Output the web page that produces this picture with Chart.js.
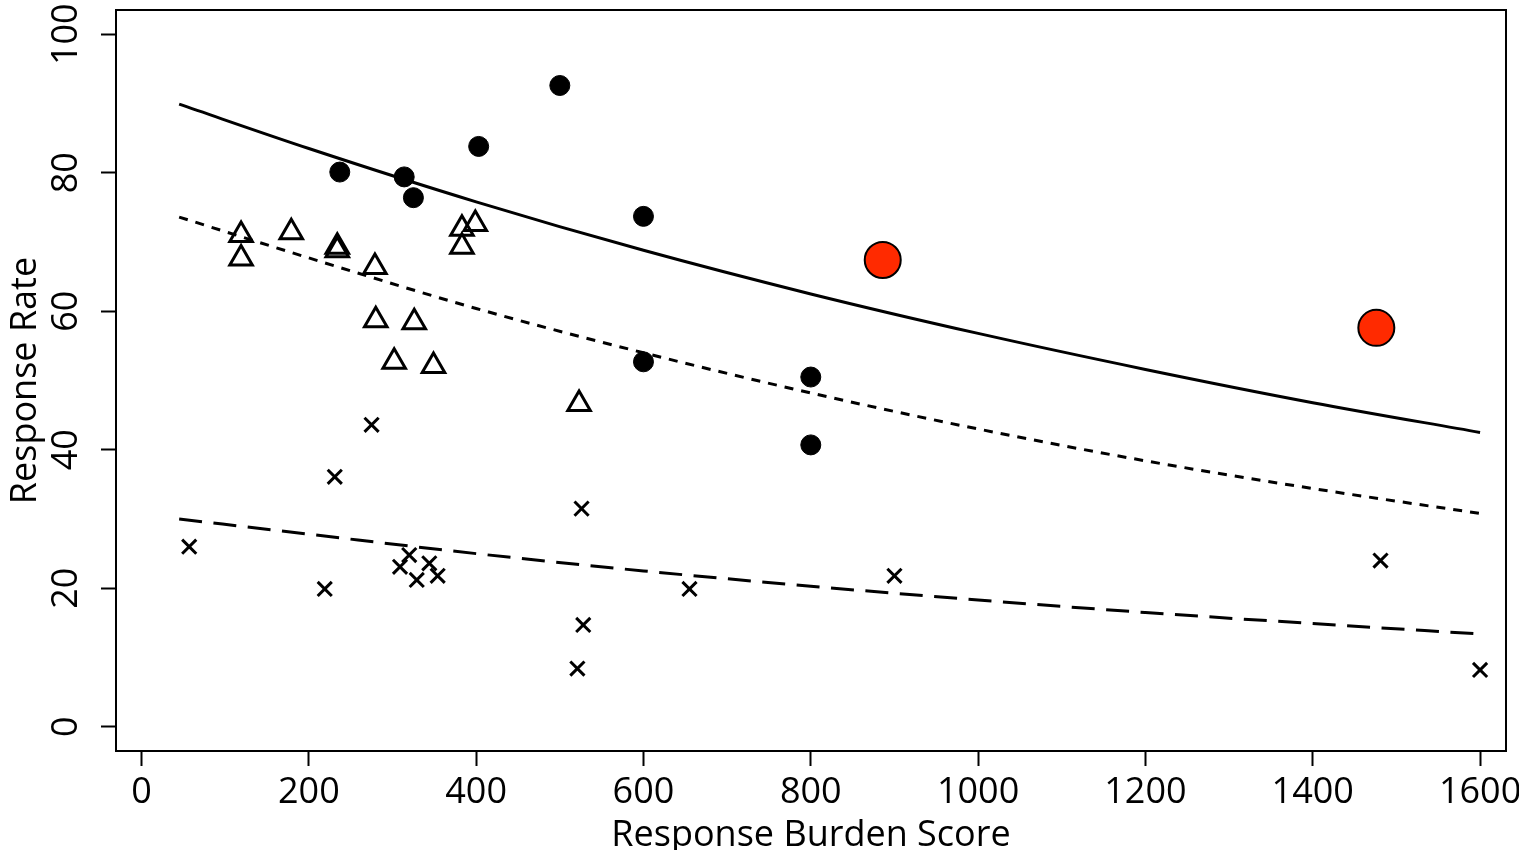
<!DOCTYPE html>
<html>
<head>
<meta charset="utf-8">
<title>Response Rate vs Response Burden Score</title>
<script src="https://cdn.jsdelivr.net/npm/chart.js@4/dist/chart.umd.min.js"></script>
<style>
  html, body { margin: 0; padding: 0; background: #fff; }
  #chart { display: block; }
</style>
</head>
<body>
<canvas id="chart" width="1519" height="850"></canvas>
<script>
// Dados ----------------------------------------------------------------------
const xTicks = [0, 200, 400, 600, 800, 1000, 1200, 1400, 1600];
const yTicks = [0, 20, 40, 60, 80, 100];

// pontos cheios (pretos)
const filledX = [237, 314, 325, 403, 500, 600, 600, 800, 800];
const filledY = [80.1, 79.4, 76.4, 83.8, 92.6, 73.7, 52.7, 50.5, 40.7];

// destaques em vermelho
const redX = [886, 1476];
const redY = [67.4, 57.6];

// triângulos abertos
const triX = [119, 119, 179, 234, 234, 279, 280, 326, 302, 349, 383, 399, 383, 523];
const triY = [71.0, 67.6, 71.4, 69.3, 68.8, 66.4, 58.7, 58.4, 52.7, 52.1, 71.9, 72.6, 69.3, 46.6];

// cruzes
const crossX = [57, 219, 231, 275, 320, 309, 329, 344, 354, 526, 528, 521, 655, 900, 1481, 1600];
const crossY = [26.0, 19.9, 36.1, 43.6, 24.8, 23.1, 21.2, 23.6, 21.8, 31.5, 14.7, 8.4, 19.9, 21.8, 24.0, 8.2];

const curveX  = [45, 200, 400, 600, 800, 1000, 1200, 1400, 1600];
const solidY  = [89.9, 83.5, 75.8, 68.8, 62.5, 56.8, 51.6, 46.8, 42.5];
const dottedY = [73.6, 67.7, 60.4, 54.0, 48.2, 43.0, 38.4, 34.4, 30.8];
const dashedY = [30.0, 27.8, 25.0, 22.5, 20.3, 18.3, 16.5, 14.9, 13.4];

// Helpers --------------------------------------------------------------------
const pts = (xs, ys) => xs.map((x, i) => ({ x, y: ys[i] }));
const FONT = '"Open Sans", "Liberation Sans", sans-serif';

function curve(ys, dash) {
  return {
    type: "line",
    data: pts(curveX, ys),
    borderColor: "#000",
    borderWidth: 3,
    borderDash: dash,
    pointRadius: 0,
    fill: false,
    cubicInterpolationMode: "monotone"
  };
}

// sem folga extra para rótulos que passam da borda
function noOverhang(s) {
  s.paddingLeft = s.paddingRight = s.paddingTop = s.paddingBottom = 0;
}

// moldura completa em volta da área do gráfico
const boxPlugin = {
  id: "box",
  afterDraw(chart) {
    const { ctx, chartArea: a } = chart;
    ctx.save();
    ctx.strokeStyle = "#000";
    ctx.lineWidth = 2;
    ctx.strokeRect(a.left, a.top, a.right - a.left, a.bottom - a.top);
    ctx.restore();
  }
};

// Gráfico --------------------------------------------------------------------
new Chart(document.getElementById("chart"), {
  type: "scatter",
  data: {
    datasets: [
      { data: pts(redX, redY), pointStyle: "circle", pointRadius: 18,
        backgroundColor: "#ff2a00", borderColor: "#000", borderWidth: 2 },
      { data: pts(filledX, filledY), pointStyle: "circle", pointRadius: 10,
        backgroundColor: "#000", borderColor: "#000", borderWidth: 1 },
      { data: pts(triX, triY), pointStyle: "triangle", pointRadius: 13,
        backgroundColor: "rgba(0,0,0,0)", borderColor: "#000", borderWidth: 3 },
      { data: pts(crossX, crossY), pointStyle: "crossRot", pointRadius: 10,
        backgroundColor: "#000", borderColor: "#000", borderWidth: 3 },
      curve(solidY, []),
      curve(dottedY, [9, 8]),
      curve(dashedY, [23, 11.5])
    ]
  },
  options: {
    responsive: false,
    animation: false,
    devicePixelRatio: 1,
    layout: { autoPadding: false, padding: { top: 10, right: 13, left: 0, bottom: 0 } },
    plugins: { legend: { display: false }, tooltip: { enabled: false } },
    scales: {
      x: {
        type: "linear",
        min: -30.5,
        max: 1631,
        afterBuildTicks: s => { s.ticks = xTicks.map(v => ({ value: v })); },
        afterFit: s => { s.height = 99; noOverhang(s); },
        grid: { drawOnChartArea: false, drawTicks: true, tickLength: 15, tickWidth: 2, tickColor: "#000" },
        border: { display: true, color: "#000", width: 2 },
        ticks: {
          color: "#000", padding: 5, maxRotation: 0, autoSkip: false,
          font: { family: FONT, size: 36 },
          callback: v => String(v)
        },
        title: {
          display: true, text: "Response Burden Score", color: "#000",
          font: { family: FONT, size: 36, lineHeight: 1 },
          padding: { top: 0, bottom: -4 }
        }
      },
      y: {
        type: "linear",
        min: -3.5,
        max: 103.5,
        afterBuildTicks: s => { s.ticks = yTicks.map(v => ({ value: v })); },
        afterFit: s => { s.width = 116; noOverhang(s); },
        grid: { drawOnChartArea: false, drawTicks: true, tickLength: 15, tickWidth: 2, tickColor: "#000" },
        border: { display: true, color: "#000", width: 2 },
        ticks: {
          color: "#000", padding: 3, minRotation: 90, maxRotation: 90, crossAlign: "center",
          font: { family: FONT, size: 36 },
          callback: v => String(v)
        },
        title: {
          display: true, text: "Response Rate", color: "#000",
          font: { family: FONT, size: 36, lineHeight: 1 },
          padding: { top: 8, bottom: 0 }
        }
      }
    }
  },
  plugins: [boxPlugin]
});
</script>
</body>
</html>
